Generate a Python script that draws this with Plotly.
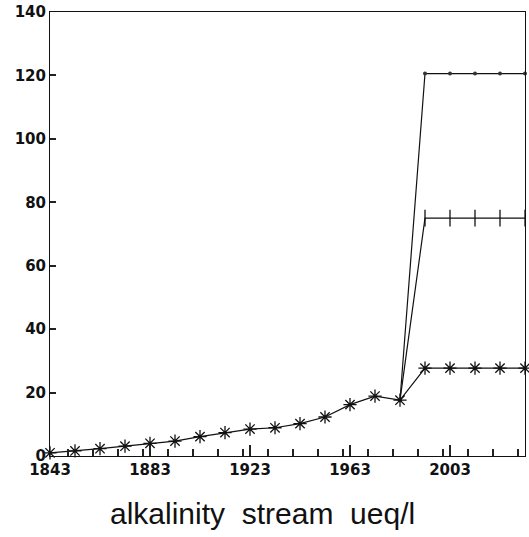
import plotly.graph_objects as go

years = [1843, 1853, 1863, 1873, 1883, 1893, 1903, 1913, 1923, 1933,
         1943, 1953, 1963, 1973, 1983, 1993, 2003, 2013, 2023, 2033]
alk_base = [1.0, 1.6, 2.3, 3.1, 4.0, 4.7, 6.1, 7.4, 8.5, 8.9,
            10.2, 12.3, 16.2, 18.9, 17.6, 27.7, 27.7, 27.7, 27.7, 27.7]
scen_years = [1983, 1993, 2003, 2013, 2023, 2033]
alk_mid = [17.6, 75.0, 75.0, 75.0, 75.0, 75.0]
alk_high = [17.6, 120.6, 120.6, 120.6, 120.6, 120.6]

ink = "#111111"
fig = go.Figure()
fig.add_trace(go.Scatter(x=scen_years, y=alk_high, mode="lines+markers",
                         line=dict(color=ink, width=1.2),
                         marker=dict(symbol="circle", size=4, color="#333")))
fig.add_trace(go.Scatter(x=scen_years[1:], y=alk_mid[1:], mode="markers",
                         marker=dict(symbol="line-ns-open", size=12, color=ink,
                                     line=dict(color=ink, width=1.3))))
fig.add_trace(go.Scatter(x=scen_years, y=alk_mid, mode="lines",
                         line=dict(color=ink, width=1.2)))
fig.add_trace(go.Scatter(x=years, y=alk_base, mode="lines+markers",
                         line=dict(color=ink, width=1.2),
                         marker=dict(symbol="asterisk-open", size=11, color=ink,
                                     line=dict(color=ink, width=1.3))))

tickfont = dict(family="DejaVu Sans", size=15, color=ink, weight="bold")
fig.update_layout(
    width=529, height=537,
    margin=dict(l=50, r=3, t=9, b=81),
    paper_bgcolor="white", plot_bgcolor="white",
    showlegend=False,
    xaxis=dict(range=[1843, 2033], dtick=40, tick0=1843,
               ticks="inside", ticklen=11, tickwidth=2, tickcolor="#222",
               minor=dict(dtick=10, ticks="inside", ticklen=7,
                          tickwidth=2, tickcolor="#222"),
               showline=True, linecolor=ink, linewidth=1, mirror=True,
               showgrid=False, zeroline=False, tickfont=tickfont),
    yaxis=dict(range=[0, 140], dtick=20,
               ticks="inside", ticklen=6, tickwidth=2, tickcolor="#222",
               showline=True, linecolor=ink, linewidth=1, mirror=True,
               showgrid=False, zeroline=False, tickfont=tickfont),
    annotations=[dict(text="alkalinity\u00a0\u00a0stream\u00a0\u00a0ueq/l",
                      xref="paper", yref="paper", x=0.447, y=-0.13,
                      xanchor="center", yanchor="middle", showarrow=False,
                      font=dict(family="Liberation Sans", size=30, color=ink))],
)
fig.update_traces(cliponaxis=False)
fig.write_html("out.html")
